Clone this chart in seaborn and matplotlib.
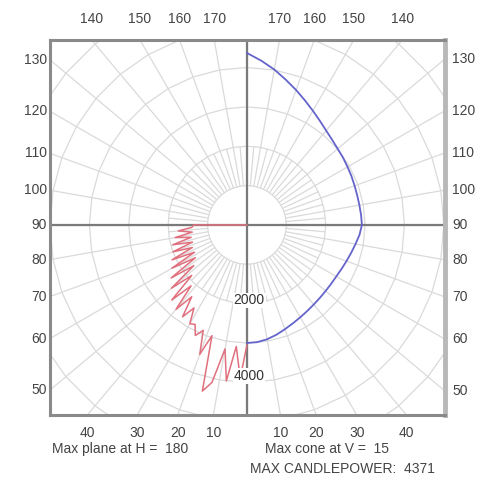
import numpy as np
import pandas as pd
import matplotlib.pyplot as plt
import seaborn as sns

# plane at H = 180: vertical angle (deg) vs candela
plane_v = [0, 2.5, 5, 7.5, 10, 12.5, 15, 17.5, 20, 22.5, 25, 27.5, 30, 32.5, 35, 37.5,
           40, 42.5, 45, 47.5, 50, 52.5, 55, 57.5, 60, 62.5, 65, 67.5, 70, 72.5, 75,
           77.5, 80, 82.5, 85, 87.5, 90, 92.5, 180]
plane_cd = [3050, 3900, 3100, 4000, 3200, 4100, 4371, 2950, 3500, 2900, 3100, 2850, 2900,
            2500, 2850, 2300, 2800, 2100, 2700, 1900, 2500, 1700, 2350, 1550, 2200, 1500,
            2100, 1500, 2000, 1450, 1950, 1450, 1850, 1400, 1750, 1400, 1350, 0, 0]

# cone at V = 15: horizontal angle (deg) vs candela
cone_h = [0, 5, 10, 15, 20, 25, 30, 35, 40, 45, 50, 55, 60, 65, 70, 75, 80, 85, 90,
          95, 100, 105, 110, 115, 120, 125, 130, 135, 140, 145, 150, 155, 160, 165,
          170, 175, 180]
cone_cd = [3000, 2990, 2950, 2890, 2820, 2760, 2710, 2670, 2640, 2620, 2610, 2610, 2620,
           2650, 2690, 2740, 2800, 2870, 2920, 2910, 2900, 2900, 2910, 2930, 2950, 2980,
           3010, 3060, 3130, 3230, 3350, 3490, 3650, 3820, 4010, 4190, 4371]

top_labels = [140, 150, 160, 170]
side_labels = [130, 120, 110, 100, 90, 80, 70, 60, 50]
bottom_labels = [40, 30, 20, 10]
ring_labels = [2000, 4000]

XL, XR, YB, YT = -5000, 5030, -4830, 4700

sns.set_style("white")
plt.rcParams['font.family'] = ['Liberation Sans', 'DejaVu Sans']

fig = plt.figure(figsize=(4.86, 4.79), dpi=100)
ax = fig.add_axes([50 / 486, 1 - 415 / 479, 395 / 486, 375 / 479])

grid_c = "#dadada"
# rings (drawn as polygons)
ang = np.radians(np.arange(0, 361, 10))
for r in range(1000, 10001, 1000):
    ax.plot(r * np.sin(ang), r * np.cos(ang), color=grid_c, lw=0.9, zorder=1)
# spokes
for a in range(0, 360, 10):
    t = np.radians(a)
    ax.plot([1000 * np.sin(t), 10000 * np.sin(t)], [1000 * np.cos(t), 10000 * np.cos(t)],
            color=grid_c, lw=0.9, zorder=1)
for a in range(5, 360, 10):
    t = np.radians(a)
    ax.plot([1000 * np.sin(t), 2000 * np.sin(t)], [1000 * np.cos(t), 2000 * np.cos(t)],
            color=grid_c, lw=0.9, zorder=1)

# centre cross
ax.axhline(0, color="#7a7a7a", lw=1.6, zorder=2)
ax.axvline(0, color="#7a7a7a", lw=1.6, zorder=2)

# curves
vr = np.radians(plane_v)
plane = pd.DataFrame({"x": -np.array(plane_cd) * np.sin(vr),
                      "y": -np.array(plane_cd) * np.cos(vr)})
hr = np.radians(cone_h)
cone = pd.DataFrame({"x": np.array(cone_cd) * np.sin(hr),
                     "y": -np.array(cone_cd) * np.cos(hr)})
sns.lineplot(data=plane, x="x", y="y", sort=False, estimator=None, color="#e0707e",
             lw=1.1, ax=ax, zorder=3)
sns.lineplot(data=cone, x="x", y="y", sort=False, estimator=None, color="#6464cc",
             lw=1.3, ax=ax, zorder=3)

for v in ring_labels:
    ax.text(60, -v * 0.96, str(v), ha="center", va="center", fontsize=10, color="#333333",
            zorder=4, bbox=dict(facecolor="white", edgecolor="none", pad=0.5))

ax.set_xlim(XL, XR)
ax.set_ylim(YB, YT)
ax.set_xticks([])
ax.set_yticks([])
ax.set_xlabel("")
ax.set_ylabel("")
for s in ["left", "top", "bottom"]:
    ax.spines[s].set_color("#8a8a8a")
    ax.spines[s].set_linewidth(2.2)
ax.spines["right"].set_color("#b8b8b8")
ax.spines["right"].set_linewidth(3.5)

tc = "#444444"
fs = 10
for v in side_labels:
    t = np.radians(v)
    yl = XL * np.cos(t) / np.sin(t)
    yr = -XR * np.cos(t) / np.sin(t)
    ax.annotate(str(v), (0, yl), xycoords=("axes fraction", "data"), xytext=(-2, 0),
                textcoords="offset points", ha="right", va="center", fontsize=fs, color=tc)
    ax.annotate(str(v), (1, yr), xycoords=("axes fraction", "data"), xytext=(5, 0),
                textcoords="offset points", ha="left", va="center", fontsize=fs, color=tc)
for v in top_labels:
    t = np.radians(v)
    xt = YT * np.tan(t)
    for x in (xt, -xt):
        ax.annotate(str(v), (x, 1), xycoords=("data", "axes fraction"), xytext=(0, 15),
                    textcoords="offset points", ha="center", va="center", fontsize=fs, color=tc)
for v in bottom_labels:
    t = np.radians(v)
    xb = YB * np.tan(t)
    for x in (xb, -xb):
        ax.annotate(str(v), (x, 0), xycoords=("data", "axes fraction"), xytext=(0, -13),
                    textcoords="offset points", ha="center", va="center", fontsize=fs, color=tc)

fig.text(52 / 486, 1 - 449 / 479, "Max plane at H =  180", fontsize=fs, color=tc,
         ha="left", va="center")
fig.text(265 / 486, 1 - 449 / 479, "Max cone at V =  15", fontsize=fs, color=tc,
         ha="left", va="center")
fig.text(250 / 486, 1 - 469 / 479, "MAX CANDLEPOWER:  4371", fontsize=fs, color=tc,
         ha="left", va="center")

fig.savefig("out.png", dpi=100)
